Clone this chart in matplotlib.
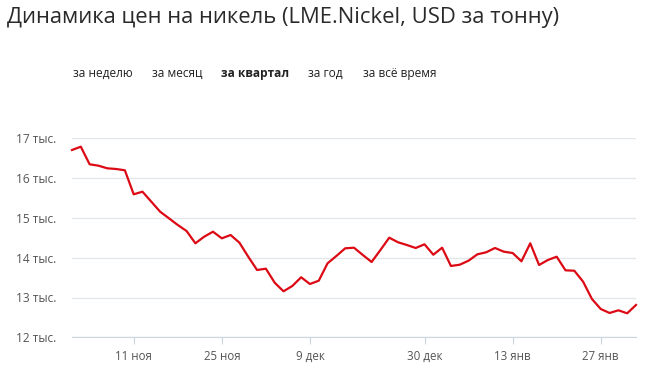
import numpy as np
import matplotlib
matplotlib.use("Agg")
import matplotlib.pyplot as plt

# Цены на никель, USD за тонну (торговые дни)
prices = [16706, 16789, 16347, 16312, 16246, 16229, 16196, 15593, 15658, 15407,
          15156, 14990, 14822, 14671, 14362, 14528, 14653, 14487, 14570, 14377,
          14025, 13691, 13724, 13372, 13156, 13289, 13508, 13339, 13422, 13859,
          14043, 14236, 14251, 14068, 13892, 14194, 14503, 14387, 14319, 14244,
          14337, 14075, 14251, 13792, 13824, 13925, 14085, 14136, 14244, 14151,
          14118, 13910, 14362, 13817, 13942, 14025, 13683, 13673, 13397, 12962,
          12711, 12611, 12678, 12603, 12812]

tick_idx = [7, 17, 27, 40, 50, 60]
tick_labels = ["11 ноя", "25 ноя", "9 дек", "30 дек", "13 янв", "27 янв"]
y_ticks = [12000, 13000, 14000, 15000, 16000, 17000]
y_labels = ["12 тыс.", "13 тыс.", "14 тыс.", "15 тыс.", "16 тыс.", "17 тыс."]
periods = ["за неделю", "за месяц", "за квартал", "за год", "за всё время"]
period_x = [73, 152, 221, 308, 363]
active = "за квартал"

plt.rcParams["font.family"] = ["Open Sans", "DejaVu Sans"]

fig = plt.figure(figsize=(6.48, 3.68), dpi=100)
W, H = 648, 368
ax = fig.add_axes([72 / W, 1 - 337.3 / H, (636 - 72) / W, (337.3 - 138.3) / H])

x = np.arange(len(prices))
ax.plot(x, prices, color="#dc0a14", linewidth=1.6, clip_on=False, zorder=3)

ax.set_xlim(0, len(prices) - 1)
ax.set_ylim(12000, 17000)
ax.set_yticks(y_ticks)
ax.set_yticklabels(y_labels)
ax.set_xticks(tick_idx)
ax.set_xticklabels(tick_labels)

ax.grid(axis="y", color="#e3e6ea", linewidth=1)
ax.set_axisbelow(True)
for s in ["top", "right", "left"]:
    ax.spines[s].set_visible(False)
ax.spines["bottom"].set_color("#ccd6e0")
ax.tick_params(axis="y", length=0, pad=11, labelsize=8.6, labelcolor="#555555")
ax.tick_params(axis="x", length=5, color="#ccd6e0", pad=4, labelsize=8.3, labelcolor="#555555")

fig.text(7 / W, 1 - 17 / H, "Динамика цен на никель (LME.Nickel, USD за тонну)",
         fontsize=15.8, color="#2a2a2a", va="center", ha="left")

for name, px in zip(periods, period_x):
    fig.text(px / W, 1 - 73 / H, name, fontsize=8.6, color="#222222",
             va="center", ha="left", fontweight="bold" if name == active else "normal")

fig.savefig("out.png", dpi=100)
